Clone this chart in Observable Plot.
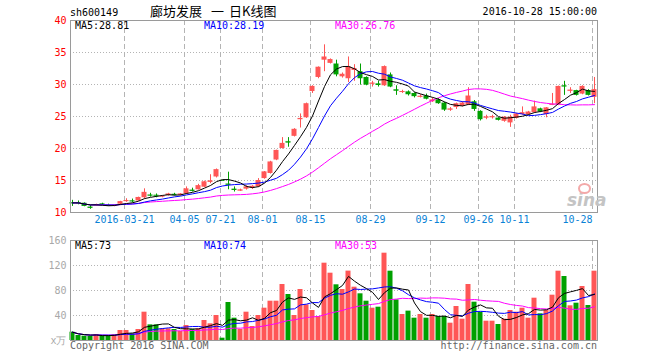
<!DOCTYPE html>
<html><head><meta charset="utf-8">
<script src="https://cdn.jsdelivr.net/npm/d3@7"></script>
<script src="https://cdn.jsdelivr.net/npm/@observablehq/plot@0.6"></script>
<style>
body{margin:0;background:#fff}
#wrap{position:relative;width:660px;height:360px;overflow:hidden;background:#fff;font-family:"DejaVu Sans Mono","Liberation Mono",monospace;font-size:10px}
.t{position:absolute;white-space:pre;line-height:12px}
.cjk{font-family:"Noto Sans CJK SC","Noto Sans",sans-serif;font-size:13px;line-height:16px;color:#000}
</style></head><body>
<div id="wrap">
  <div id="main" style="position:absolute;left:0;top:0"></div>
  <div id="vol" style="position:absolute;left:0;top:230px"></div>
  <div class="t" style="left:70px;top:7px;color:#000">sh600149</div>
  <div class="t cjk" style="left:150px;top:3px">廊坊发展</div>
  <div class="t cjk" style="left:211px;top:3px">一</div>
  <div class="t cjk" style="left:229px;top:3px">日K线图</div>
  <div class="t" style="right:63px;top:6px;color:#000">2016-10-28 15:00:00</div>
  <div class="t" style="left:75px;top:20px;color:#000">MA5:28.81</div>
  <div class="t" style="left:204px;top:20px;color:#0000ff">MA10:28.19</div>
  <div class="t" style="left:335px;top:20px;color:#ff00ff">MA30:26.76</div>
  <div class="t" style="left:75px;top:240px;color:#000">MA5:73</div>
  <div class="t" style="left:204px;top:240px;color:#0000ff">MA10:74</div>
  <div class="t" style="left:335px;top:240px;color:#ff00ff">MA30:53</div>
  <div class="t" style="left:70px;top:340px;color:#666">Copyright 2016 SINA.COM</div>
  <div class="t" style="right:63px;top:340px;color:#666">http://finance.sina.com.cn</div>
  <div class="t" style="left:567px;top:190px;font-family:'DejaVu Sans',sans-serif;font-weight:bold;font-style:italic;font-size:17px;line-height:20px;color:#c4c4c4">sina</div>
  <div style="position:absolute;left:578px;top:183px;width:9px;height:7px;border-radius:50%;border:2px solid #f3a9a9"></div>
</div>
<script>
// ---- data ----
const open  = [11.55,11.55,11.45,10.85,11.1,11.35,11.15,11.0,11.3,11.8, 11.85,11.8,12.3,12.75,12.7,12.4,12.65,12.85,12.7,12.9, 13.5,13.55,13.95,14.7,15.55,15.03,14.45,13.65,13.4,13.65, 13.75,14.0,15.3,16.1,18.2,20.0,21.1,21.9,24.5,24.8, 28.9,31.1,33.8,33.3,33.2,31.2,30.9,32.2,32.0,31.1, 30.1,30.1,29.8,31.5,29.2,28.8,28.85,28.6,28.05,28.2, 27.3,27.6,27.1,26.05,26.4,26.6,26.8,27.3,25.8,24.8, 24.85,24.75,24.25,24.0,24.7,25.3,25.3,25.6,26.2,25.3, 26.8,26.8,29.8,29.0,29.05,28.5,29.05,28.0];
const high  = [11.9,11.8,11.5,11.1,11.3,11.45,11.3,11.2,11.75,12.15, 12.1,12.4,13.7,13.0,12.9,12.6,13.0,13.0,12.95,14.0, 13.8,14.4,14.9,15.9,16.8,15.03,16.3,14.0,13.65,14.2, 14.2,15.3,16.4,18.0,19.75,21.7,21.7,23.1,25.4,27.1, 29.8,32.75,36.2,34.0,33.8,31.8,34.3,33.1,33.2,31.2, 30.5,30.5,32.9,31.8,29.8,29.1,29.0,28.7,28.4,28.5, 27.9,27.8,27.2,26.4,27.1,27.3,29.5,27.5,25.9,25.2, 25.2,24.8,25.0,25.2,25.5,26.5,25.8,27.4,26.3,26.4, 28.6,29.75,30.5,29.5,29.1,29.8,29.2,31.1];
const low   = [10.95,11.2,10.9,10.5,11.0,11.1,10.95,10.9,11.25,11.6, 11.5,11.75,12.1,12.4,12.3,12.3,12.55,12.6,12.6,12.8, 13.2,13.5,13.9,14.5,15.4,15.03,13.55,13.2,13.3,13.5, 13.6,13.9,15.2,16.0,18.1,19.9,20.2,21.8,23.2,24.7, 28.6,30.9,32.0,33.2,31.2,31.0,30.3,30.5,29.9,29.8, 29.6,29.6,29.7,29.5,28.3,28.6,28.2,27.9,27.9,27.6, 27.2,26.9,25.8,25.8,26.1,26.5,26.7,25.8,24.3,24.5, 24.6,24.3,24.1,23.3,24.6,25.2,25.2,25.5,25.6,24.8, 26.7,26.7,28.3,28.6,28.2,28.4,28.2,27.0];
const close = [11.5,11.5,10.95,10.8,11.2,11.2,11.1,11.15,11.7,11.85, 11.8,12.35,13.15,12.7,12.6,12.55,12.9,12.8,12.9,13.7, 13.45,14.2,14.8,14.95,16.7,15.03,14.25,13.6,13.5,14.0, 14.1,15.0,16.35,17.9,19.7,20.8,21.0,23.0,24.7,27.0, 29.7,32.7,34.3,33.9,31.5,31.6,32.8,32.5,30.9,29.9, 30.2,30.0,32.8,29.6,29.1,28.9,28.4,28.1,28.15,27.7, 27.6,27.0,26.0,26.15,27.0,27.1,28.2,26.1,24.5,24.9, 24.95,24.4,24.9,24.9,25.4,25.6,25.7,26.5,25.7,26.35, 26.9,29.7,29.6,29.1,28.3,29.7,28.3,29.2];
const volume = [13.3,8,6.9,6.4,9.6,8,8,9.1,16,16, 10.7,17.6,45.3,25,25,18.7,18.7,17.6,14.4,24, 17.6,18.7,32,26.7,40,3.7,60.8,35.7,17.6,45.3, 22.4,40,51.7,62.9,62.9,89.6,73.6,40,81.6,57, 48,38.4,123.7,107.7,89.1,81.6,111,85.3,74.7,62.9, 51.7,53.3,139.7,110.9,65,41.6,47,35.7,41.6,35.7, 41.6,38.4,38.4,27.7,54.4,34.1,89.6,61.3,45.3,30.9, 30.9,25.6,34.1,48,45.3,51.7,35.7,67.7,42.7,48, 72.5,110.9,102.4,55.5,59.7,86.4,56,110.9];
const tickIndex  = [9, 19, 25, 32, 40, 50, 60, 68, 74, 87];
const tickLabels = ["2016-03-21","04-05","07-21","08-01","08-15","08-29","09-12","09-26","10-11","10-28"];
const priceTicks = [10, 15, 20, 25, 30, 35, 40];
const volTicks = [0, 40, 80, 120, 160];
const volTickLabels = ["x万", "40", "80", "120", "160"];

// ---- build ----
const RED = "#ff5656", GREEN = "#00a000", GRID = "#b4b4b4", FRAME = "#9a9a9a";
const candles = open.map((o, i) => {
  const c = close[i];
  const up = c > o || (c === o && (i === 0 || c >= close[i - 1]));
  return {i, o, h: high[i], l: low[i], c, v: volume[i], col: up ? RED : GREEN, doji: Math.abs(c - o) < 0.12};
});
const xDomain = [-1/3, 87.5];
const tickRows = tickIndex.map((d, k) => ({pos: d - 1/3, label: tickLabels[k]}));
// labels that would overflow the right edge of the frame end at their gridline
const fitsRows = tickRows.filter(r => r.pos + r.label.length * 0.5 <= xDomain[1]);
const clampRows = tickRows.filter(r => r.pos + r.label.length * 0.5 > xDomain[1]);
const HW = 5/12;
const style = {fontFamily: "DejaVu Sans Mono, Liberation Mono, monospace", fontSize: "10px", background: "transparent", overflow: "visible"};

const main = Plot.plot({
  width: 660, height: 230, marginLeft: 70, marginRight: 63, marginTop: 20, marginBottom: 18,
  x: {domain: xDomain, axis: null},
  y: {domain: [10, 40], axis: null},
  color: {type: "identity"},
  style,
  marks: [
    Plot.ruleY(priceTicks.slice(1, -1), {stroke: GRID, strokeDasharray: "1,2"}),
    Plot.ruleX(tickRows, {x: "pos", stroke: GRID, strokeDasharray: "5,3"}),
    Plot.ruleX(candles, {x: "i", y1: "l", y2: "h", stroke: "col"}),
    Plot.rect(candles, {x1: d => d.i - HW, x2: d => d.i + HW, y1: "o", y2: "c", fill: "col"}),
    Plot.ruleY(candles.filter(d => d.doji), {y: "c", x1: d => d.i - HW, x2: d => d.i + HW, stroke: "col"}),
    Plot.lineY(candles, Plot.windowY({k: 30, anchor: "end"}, {x: "i", y: "c", stroke: "#ff00ff", strokeWidth: 1})),
    Plot.lineY(candles, Plot.windowY({k: 10, anchor: "end"}, {x: "i", y: "c", stroke: "#0000ff", strokeWidth: 1})),
    Plot.lineY(candles, Plot.windowY({k: 5, anchor: "end"}, {x: "i", y: "c", stroke: "#000000", strokeWidth: 1})),
    Plot.frame({stroke: FRAME}),
    Plot.text(priceTicks, {y: d => d, text: d => String(d), frameAnchor: "left", dx: -4, textAnchor: "end", fill: "#ff0000"}),
    Plot.text(fitsRows, {x: "pos", text: "label", frameAnchor: "bottom", dy: 10, fill: "#0a82d6"}),
    Plot.text(clampRows, {x: "pos", text: "label", frameAnchor: "bottom", dy: 10, textAnchor: "end", fill: "#0a82d6"})
  ]
});
document.getElementById("main").appendChild(main);

const vol = Plot.plot({
  width: 660, height: 130, marginLeft: 70, marginRight: 63, marginTop: 10, marginBottom: 20,
  x: {domain: xDomain, axis: null},
  y: {domain: [0, 160], axis: null},
  color: {type: "identity"},
  style,
  marks: [
    Plot.ruleY(volTicks.slice(1, -1), {stroke: GRID, strokeDasharray: "1,2"}),
    Plot.ruleX(tickRows, {x: "pos", stroke: GRID, strokeDasharray: "5,3"}),
    Plot.rect(candles, {x1: d => d.i - HW, x2: d => d.i + HW, y1: 0, y2: "v", fill: "col"}),
    Plot.lineY(candles, Plot.windowY({k: 30, anchor: "end"}, {x: "i", y: "v", stroke: "#ff00ff", strokeWidth: 1})),
    Plot.lineY(candles, Plot.windowY({k: 10, anchor: "end"}, {x: "i", y: "v", stroke: "#0000ff", strokeWidth: 1})),
    Plot.lineY(candles, Plot.windowY({k: 5, anchor: "end"}, {x: "i", y: "v", stroke: "#000000", strokeWidth: 1})),
    Plot.frame({stroke: FRAME}),
    Plot.text(volTicks, {y: d => d, text: d => volTickLabels[volTicks.indexOf(d)], frameAnchor: "left", dx: -4, textAnchor: "end", fill: "#a8a8a8"})
  ]
});
document.getElementById("vol").appendChild(vol);
</script>
</body></html>
